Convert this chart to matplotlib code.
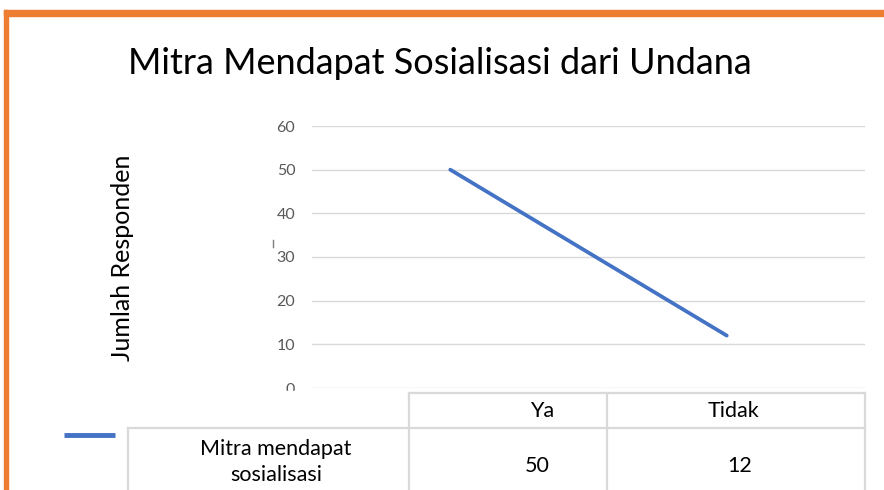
import matplotlib.pyplot as plt
from matplotlib.patches import Rectangle

# data
categories = ['Ya', 'Tidak']
values = [50, 12]
series_name = 'Mitra mendapat\nsosialisasi'
title = 'Mitra Mendapat Sosialisasi dari Undana'
ylabel = 'Jumlah Responden'
yticks = [0, 10, 20, 30, 40, 50, 60]

W, H = 884, 490
plt.rcParams['font.family'] = ['Lato', 'DejaVu Sans']

fig = plt.figure(figsize=(W / 100, H / 100), dpi=100)
fig.patch.set_facecolor('white')

# plot area (pixel positions from the reference)
L, R, T, B = 312, 865, 126, 388
ax = fig.add_axes([L / W, 1 - B / H, (R - L) / W, (B - T) / H])
x = list(range(len(categories)))
ax.plot(x, values, color='#4472C4', lw=2.7, solid_capstyle='round', zorder=3)
ax.set_xlim(-0.5, len(categories) - 0.5)
ax.set_ylim(0, 60)
ax.set_yticks(yticks)
ax.set_xticks([])
ax.tick_params(axis='y', length=0, pad=12, labelsize=11.5, labelcolor='#595959')
ax.grid(axis='y', color='#D9D9D9', lw=1)
for s in ax.spines.values():
    s.set_visible(False)

# overlay in pixel coordinates for frame, title and data table
ov = fig.add_axes([0, 0, 1, 1], zorder=5)
ov.set_xlim(0, W)
ov.set_ylim(H, 0)
ov.axis('off')
ov.patch.set_alpha(0)

# data table area hides the bottom of the "0" label
ov.add_patch(Rectangle((8, 391), W - 8, H - 391, color='white', zorder=1))

# orange frame
ov.add_patch(Rectangle((4, 10), W - 4, 6, color='#ED7D31', zorder=4))
ov.add_patch(Rectangle((4, 10), 4, H - 10, color='#ED7D31', zorder=4))

ov.text(439.5, 63, title, ha='center', va='center', fontsize=26, color='#000000')
ov.text(122, 258, ylabel, ha='center', va='center', rotation=90, fontsize=18, color='#000000')
ov.plot([273, 273], [240, 247], color='#7F7F7F', lw=1)

gc = '#D9D9D9'
lw = 1.6
ov.plot([409, 865], [393, 393], color=gc, lw=lw, zorder=2)
ov.plot([128, 865], [428, 428], color=gc, lw=lw, zorder=2)
for xv in [409, 607, 865]:
    ov.plot([xv, xv], [393, H], color=gc, lw=lw, zorder=2)
ov.plot([128, 128], [428, H], color=gc, lw=lw, zorder=2)

hdr_x = [542, 733]
val_x = [537, 740]
for cx, vx, cat, v in zip(hdr_x, val_x, categories, values):
    ov.text(cx, 411, cat, ha='center', va='center', fontsize=15.5, zorder=3)
    ov.text(vx, 466, str(v), ha='center', va='center', fontsize=15.5, zorder=3)
ov.text(276, 462, series_name, ha='center', va='center', fontsize=15.5,
        linespacing=1.4, zorder=3)
ov.plot([64, 115], [434.5, 434.5], color='#4472C4', lw=3.5, solid_capstyle='butt', zorder=3)

fig.savefig('out.png', dpi=100)
